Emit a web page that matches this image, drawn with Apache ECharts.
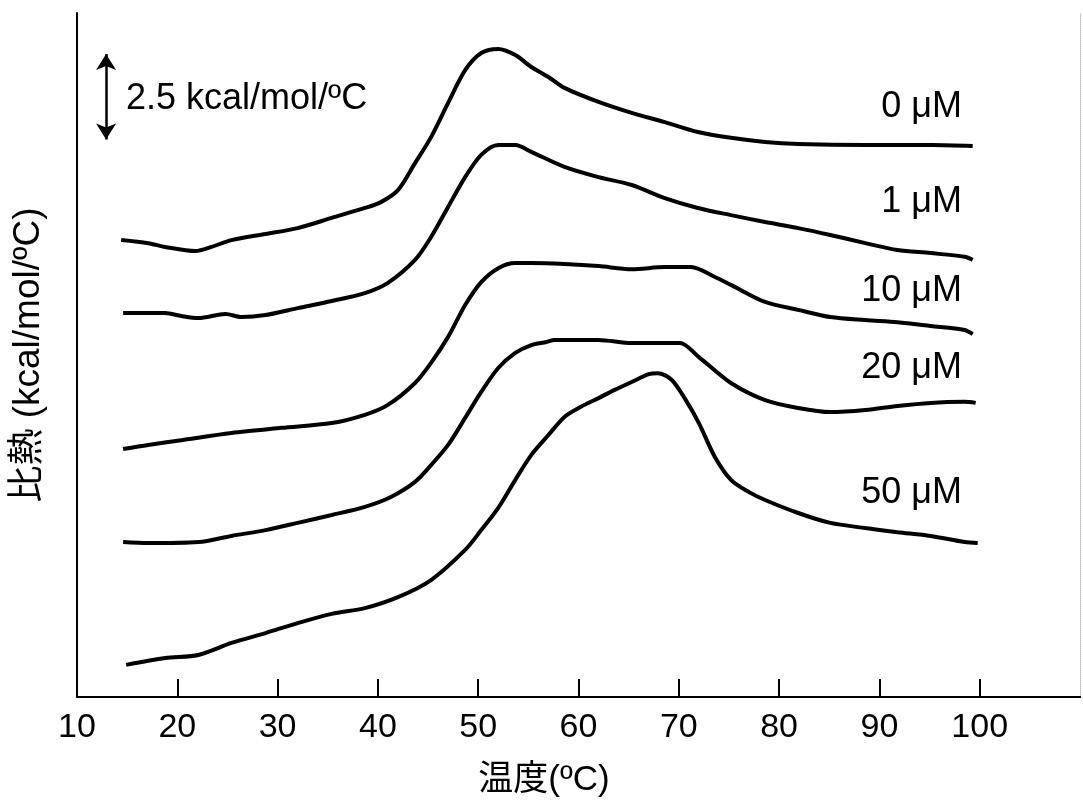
<!DOCTYPE html>
<html>
<head>
<meta charset="utf-8">
<script src="https://cdn.jsdelivr.net/npm/echarts@6/dist/echarts.min.js"></script>
<style>
  html, body { margin: 0; padding: 0; background: #fff; }
  #chart { width: 1083px; height: 805px; }
</style>
</head>
<body>
<div id="chart"></div>
<script>
// temperature (ºC) and specific heat (kcal/mol/ºC, curves offset)
const t0 = [14.4, 17.1, 18.8, 21.8, 23.4, 25.4, 28.8, 32.0, 35.4, 38.7, 40.3, 42.0, 43.7, 45.3, 47.0, 48.7, 50.3, 52.0, 53.7, 55.3, 57.0, 58.6, 62.0, 65.3, 68.6, 71.9, 75.2, 78.6, 81.9, 88.6, 95.3, 99.3];
const cp0 = [13.36, 13.27, 13.16, 13.04, 13.16, 13.36, 13.54, 13.71, 14.01, 14.30, 14.47, 14.82, 15.61, 16.37, 17.37, 18.33, 18.83, 18.95, 18.77, 18.42, 18.13, 17.81, 17.40, 17.08, 16.81, 16.52, 16.35, 16.23, 16.17, 16.14, 16.14, 16.11];

const t1 = [14.6, 18.8, 20.4, 22.1, 24.8, 26.4, 28.8, 32.0, 35.4, 38.7, 41.0, 43.7, 45.3, 47.0, 48.7, 50.3, 52.0, 53.7, 55.3, 58.6, 62.0, 65.3, 68.6, 71.9, 75.2, 78.6, 81.9, 85.1, 88.6, 91.8, 95.1, 98.5, 99.3];
const cp1 = [11.23, 11.23, 11.14, 11.08, 11.20, 11.11, 11.17, 11.37, 11.58, 11.81, 12.11, 12.78, 13.45, 14.33, 15.20, 15.85, 16.14, 16.14, 15.94, 15.50, 15.20, 14.97, 14.59, 14.30, 14.09, 13.89, 13.71, 13.51, 13.27, 13.07, 12.98, 12.87, 12.78];

const t10 = [14.6, 17.1, 20.4, 25.4, 30.4, 35.4, 38.7, 41.0, 43.7, 45.3, 47.0, 48.7, 50.3, 52.0, 53.7, 55.3, 58.6, 62.0, 65.3, 68.6, 71.2, 73.6, 75.2, 78.6, 81.9, 85.1, 88.6, 91.8, 95.1, 98.5, 99.3];
const cp10 = [7.25, 7.37, 7.51, 7.72, 7.87, 8.01, 8.25, 8.54, 9.18, 9.77, 10.53, 11.46, 12.13, 12.54, 12.69, 12.69, 12.66, 12.60, 12.51, 12.57, 12.57, 12.28, 12.05, 11.55, 11.32, 11.11, 11.02, 10.96, 10.85, 10.73, 10.61];

const t20 = [14.6, 17.1, 22.1, 25.4, 28.8, 32.0, 35.4, 38.7, 41.3, 43.7, 45.3, 47.0, 48.7, 50.3, 52.0, 53.7, 55.3, 56.8, 57.6, 62.0, 65.3, 70.1, 72.0, 75.2, 78.6, 81.9, 85.1, 88.6, 91.8, 95.1, 98.5, 99.6];
const cp20 = [4.53, 4.50, 4.53, 4.71, 4.88, 5.09, 5.32, 5.56, 5.85, 6.29, 6.78, 7.37, 8.16, 8.92, 9.62, 10.06, 10.29, 10.38, 10.44, 10.44, 10.35, 10.35, 9.94, 9.18, 8.68, 8.45, 8.33, 8.39, 8.51, 8.60, 8.63, 8.60];

const t50 = [14.9, 18.8, 22.1, 25.4, 28.8, 32.0, 35.4, 38.7, 42.0, 45.3, 48.7, 50.3, 52.0, 53.7, 55.3, 57.0, 58.6, 60.2, 62.0, 63.6, 65.3, 67.0, 67.9, 69.3, 70.7, 72.0, 73.6, 75.2, 77.0, 78.6, 81.9, 85.1, 88.6, 91.8, 95.1, 98.5, 99.8];
const cp50 = [0.94, 1.14, 1.23, 1.58, 1.87, 2.16, 2.43, 2.60, 2.92, 3.42, 4.30, 4.88, 5.53, 6.35, 7.08, 7.66, 8.19, 8.48, 8.74, 8.98, 9.21, 9.44, 9.47, 9.27, 8.68, 8.01, 7.02, 6.35, 5.99, 5.76, 5.38, 5.09, 4.94, 4.82, 4.71, 4.53, 4.50];

const concLabels = ['0 μM', '1 μM', '10 μM', '20 μM', '50 μM'];
const xLabelTicks = [10, 20, 30, 40, 50, 60, 70, 80, 90, 100];
const xTickMarks = [20, 30, 40, 50, 60, 70, 80, 90, 100];

// scale bar: 2.5 kcal/mol/ºC
const scaleBarT = 12.9;
const scaleBarFrom = 16.3;
const scaleBarSize = 2.5;

const FONT = '"Liberation Sans", Arial, "Noto Sans CJK JP", sans-serif';

function pairs(t, v) {
    return t.map((x, i) => [x, v[i]]);
}

const curves = [[t0, cp0], [t1, cp1], [t10, cp10], [t20, cp20], [t50, cp50]];

const series = curves.map((c, i) => ({
    name: concLabels[i],
    type: 'line',
    data: pairs(c[0], c[1]),
    showSymbol: false,
    smooth: 0.3,
    lineStyle: { color: '#000', width: 4 },
    silent: true
}));

// scale arrow drawn in data coordinates
series.push({
    type: 'line',
    data: [],
    silent: true,
    markLine: {
        silent: true,
        symbol: ['arrow', 'arrow'],
        symbolSize: [15, 16],
        label: { show: false },
        lineStyle: { color: '#000', width: 2.5, type: 'solid' },
        data: [[
            { coord: [scaleBarT, scaleBarFrom] },
            { coord: [scaleBarT, scaleBarFrom + scaleBarSize] }
        ]]
    }
});

// positions of the concentration labels (pixels)
const labelY = [107, 202, 291, 368, 493];

let myChart = echarts.init(document.getElementById('chart'));
myChart.setOption({
    animation: false,
    backgroundColor: '#fff',
    grid: { left: 77, top: 13, right: 3, bottom: 108, outerBoundsMode: 'none' },
    xAxis: [{
        type: 'value',
        min: 10,
        max: 110,
        interval: 10,
        axisLine: { show: true, lineStyle: { color: '#000', width: 2 } },
        axisTick: {
            show: true, inside: true, length: 18,
            customValues: xTickMarks,
            lineStyle: { color: '#000', width: 2 }
        },
        axisLabel: {
            customValues: xLabelTicks,
            color: '#000', fontSize: 34, fontFamily: FONT, margin: 14
        },
        splitLine: { show: false }
    }, {
        type: 'value',
        position: 'top',
        min: 10,
        max: 110,
        axisLine: { show: true, lineStyle: { color: '#000', width: 2 } },
        axisTick: { show: false },
        axisLabel: { show: false },
        splitLine: { show: false }
    }],
    yAxis: [{
        type: 'value',
        min: 0,
        max: 20,
        name: '比熱 (kcal/mol/ºC)',
        nameLocation: 'middle',
        nameRotate: 90,
        nameGap: 30,
        nameTextStyle: { color: '#000', fontSize: 37, fontFamily: FONT },
        axisLine: { show: true, lineStyle: { color: '#000', width: 2 } },
        axisTick: { show: false },
        axisLabel: { show: false },
        splitLine: { show: false }
    }, {
        type: 'value',
        position: 'right',
        min: 0,
        max: 20,
        axisLine: { show: true, lineStyle: { color: '#bbb', width: 1, type: 'dotted' } },
        axisTick: { show: false },
        axisLabel: { show: false },
        splitLine: { show: false }
    }],
    series: series,
    graphic: [
        {
            type: 'text', x: 126, y: 99,
            style: {
                text: '2.5 kcal/mol/ºC', fontSize: 36, fontFamily: FONT, fill: '#000',
                verticalAlign: 'middle'
            }
        },
        {
            type: 'text', x: 544, y: 780,
            style: {
                text: '温度(ºC)', fontSize: 35, fontFamily: FONT, fill: '#000',
                align: 'center', verticalAlign: 'middle'
            }
        }
    ].concat(concLabels.map((s, i) => ({
        type: 'text', x: 962, y: labelY[i],
        style: {
            text: s, fontSize: 36, fontFamily: FONT, fill: '#000',
            align: 'right', verticalAlign: 'middle'
        }
    })))
});
</script>
</body>
</html>
